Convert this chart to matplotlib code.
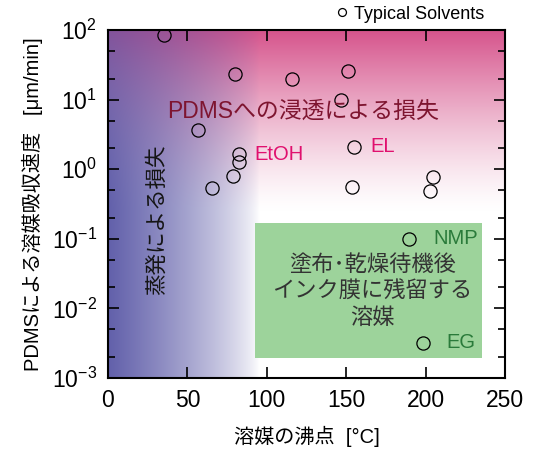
import numpy as np
import matplotlib
matplotlib.use('Agg')
import matplotlib.pyplot as plt
from matplotlib.patches import Rectangle
from matplotlib.ticker import LogLocator, FixedLocator, NullFormatter

plt.rcParams['font.family'] = ['Liberation Sans', 'Noto Sans CJK JP', 'DejaVu Sans']
plt.rcParams['mathtext.fontset'] = 'custom'
plt.rcParams['mathtext.rm'] = 'Liberation Sans'
plt.rcParams['mathtext.it'] = 'Liberation Sans'
plt.rcParams['mathtext.default'] = 'rm'

# boiling point [deg C] vs absorption rate into PDMS [um/min]
boiling_point = [35, 80, 116, 151, 146.5, 56.5, 155, 82.5, 82.5, 79, 65.5, 153.5, 204.5, 202.5, 189.5, 198.5]
absorb_rate = [85, 23, 20, 26, 10, 3.6, 2.07, 1.65, 1.26, 0.81, 0.53, 0.55, 0.76, 0.49, 0.10, 0.0032]

labels = ['EtOH', 'EL', 'NMP', 'EG']
label_x = [92, 165, 205, 213]
label_y = [1.65, 2.15, 0.10, 0.0032]

# residual-solvent region (green box)
box_x = (92.4, 235.4)
box_y = (0.00196, 0.17)

fig = plt.figure(figsize=(5.33, 4.54), dpi=100)
ax = fig.add_axes([108 / 533, 76 / 454, 397 / 533, 348 / 454])

# background: blue (evaporation) from left, pink (PDMS uptake) from top
nx, ny = 400, 350
xx = np.linspace(0, 1, nx)
yy = np.linspace(0, 1, ny)  # 0 = top
X, Y = np.meshgrid(xx, yy)
pink = np.array([214, 84, 140]) / 255
blue = np.array([84, 82, 163]) / 255
a_p = np.clip(1 - Y / 0.52, 0, 1) ** 1.3
a_b = 0.92 * np.clip(1 - X / 0.38, 0, 1) ** 0.75
a_b = a_b * (1 - 0.3 * a_p)  # a bit more purple in the upper-left corner
img = np.ones((ny, nx, 3))
img = img * (1 - a_p[..., None]) + pink * a_p[..., None]
img = img * (1 - a_b[..., None]) + blue * a_b[..., None]
ax.imshow(img, extent=(0, 1, 0, 1), transform=ax.transAxes, aspect='auto', zorder=0)

ax.add_patch(Rectangle((box_x[0], box_y[0]), box_x[1] - box_x[0], box_y[1] - box_y[0],
                       facecolor='#9dd39b', edgecolor='none', zorder=1))

ax.plot(boiling_point, absorb_rate, 'o', mfc='none', mec='black', mew=0.9, ms=9.5,
        zorder=3, clip_on=True, label='Typical Solvents')

label_colors = ['#e0106e', '#e0106e', '#2a7a3a', '#2a7a3a']
for t, x, y, c in zip(labels, label_x, label_y, label_colors):
    ax.text(x, y, t, color=c, fontsize=14.5, va='center', ha='left', zorder=4)

ax.text(123, 6.8, 'PDMSへの浸透による損失', color='#7e1530', fontsize=16.5,
        ha='center', va='center', zorder=4)
ax.text(31, 0.186, '蒸発による損失', color='#151515', fontsize=15.5, rotation=90,
        ha='center', va='center', zorder=4)
ax.text(166.5, 0.0172, '塗布･乾燥待機後\nインク膜に残留する\n溶媒', color='#333333',
        fontsize=16, ha='center', va='center', linespacing=1.35, zorder=4)

ax.set_xlim(0, 250)
ax.set_yscale('log')
ax.set_ylim(1e-3, 1e2)
ax.set_xticks([0, 50, 100, 150, 200, 250])
ax.yaxis.set_major_locator(FixedLocator([1e-3, 1e-2, 1e-1, 1, 10, 100]))
ax.set_yticklabels(['$10^{-3}$', '$10^{-2}$', '$10^{-1}$', '$10^{0}$', '$10^{1}$', '$10^{2}$'])
ax.yaxis.set_minor_locator(LogLocator(base=10, subs=[2, 5]))
ax.yaxis.set_minor_formatter(NullFormatter())
ax.tick_params(which='both', direction='in', top=True, right=True, width=1.2)
ax.tick_params(which='major', length=8, labelsize=16.5, pad=8)
ax.tick_params(which='minor', length=5)
for s in ax.spines.values():
    s.set_linewidth(1.5)

ax.set_xlabel('溶媒の沸点  [°C]', fontsize=14.5, labelpad=10)
ax.set_ylabel('PDMSによる溶媒吸収速度   [μm/min]', fontsize=14.5, labelpad=6)

ax.legend(loc='lower right', bbox_to_anchor=(0.975, 0.99), frameon=False, fontsize=13,
          markerscale=0.6, handletextpad=0.15, borderpad=0.1, handlelength=1.0)

fig.savefig('out.png', dpi=100)
